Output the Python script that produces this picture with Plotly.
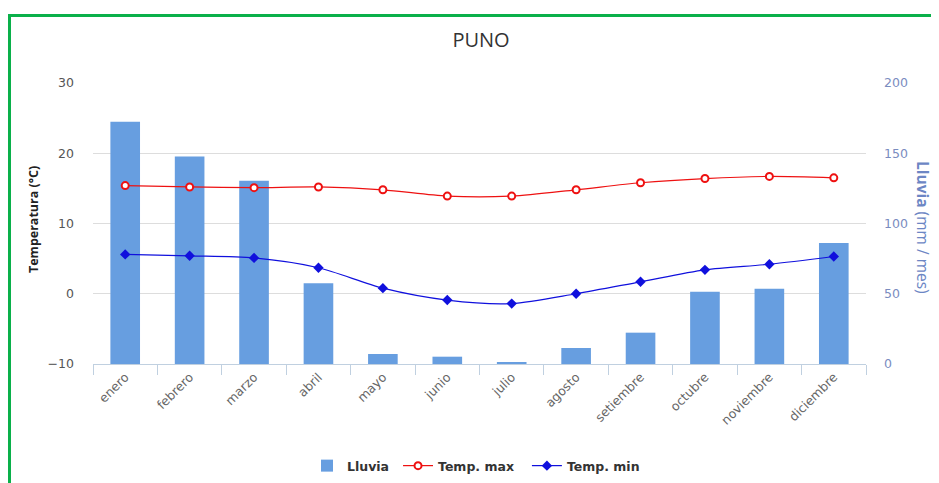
import plotly.graph_objects as go

months = ["enero", "febrero", "marzo", "abril", "mayo", "junio", "julio",
          "agosto", "setiembre", "octubre", "noviembre", "diciembre"]
lluvia = [172.5, 147.6, 130.4, 57.4, 7.1, 5.2, 1.4, 11.4, 22.3, 51.5, 53.6, 86.1]
temp_max = [15.4, 15.2, 15.1, 15.2, 14.8, 13.9, 13.9, 14.8, 15.8, 16.4, 16.7, 16.5]
temp_min = [5.6, 5.4, 5.1, 3.7, 0.8, -0.9, -1.4, 0.0, 1.7, 3.4, 4.2, 5.3]
temp_ticks = [-10, 0, 10, 20, 30]
rain_ticks = [0, 50, 100, 150, 200]

# page body has an 8px margin: figure is drawn at offset (8, 8)
OFF = 8
W, H = 939 - OFF, 483 - OFF
L, R, T, B = 93 - OFF, 866 - OFF, 83 - OFF, 364 - OFF


def px(x):
    return (x - OFF - L) / (R - L)


def py(y):
    return (B - (y - OFF)) / (B - T)


fig = go.Figure()
fig.add_trace(go.Bar(
    x=months, y=lluvia, name="<b>Lluvia</b>&nbsp;", yaxis="y",
    marker=dict(color="#679ee0", line=dict(width=0)),
))
fig.add_trace(go.Scatter(
    x=months, y=temp_max, name="<b>Temp. max</b>&nbsp;&nbsp;", yaxis="y2", mode="lines+markers",
    line=dict(color="#ee1111", width=1.2, shape="spline", smoothing=0.8),
    marker=dict(symbol="circle", size=7, color="white", line=dict(color="#ee1111", width=2)),
))
fig.add_trace(go.Scatter(
    x=months, y=temp_min, name="<b>Temp. min</b>", yaxis="y2", mode="lines+markers",
    line=dict(color="#1010dd", width=1.2, shape="spline", smoothing=0.8),
    marker=dict(symbol="diamond", size=8, color="#1010dd"),
))

xtickfont = dict(family="DejaVu Sans, sans-serif", size=12.5, color="#666666")
ytickfont = dict(family="DejaVu Sans, sans-serif", size=12.5, color="#555555")

fig.update_layout(
    width=W, height=H,
    margin=dict(l=L, r=W - R, t=T, b=H - B, pad=0, autoexpand=False),
    paper_bgcolor="white", plot_bgcolor="white",
    bargap=0.54,
    showlegend=True,
    legend=dict(orientation="h", x=(476 - OFF) / W, xanchor="center", xref="container",
                y=1 - (466 - OFF) / H, yanchor="middle", yref="container",
                font=dict(family="DejaVu Sans, sans-serif", size=12.5, color="#333333"),
                itemwidth=30, traceorder="normal", tracegroupgap=0),
    xaxis=dict(
        type="category", range=[-0.5, len(months) - 0.5], tickangle=-45,
        tickfont=xtickfont, automargin=False,
        showline=True, linecolor="#c0d0e0", linewidth=1,
        ticks="outside", ticklen=10, tickcolor="#c0d0e0", tickson="boundaries",
        showgrid=False, zeroline=False,
    ),
    yaxis=dict(
        side="right", range=[0, 200], tickvals=rain_ticks, automargin=False,
        tickfont=dict(family="DejaVu Sans, sans-serif", size=12.5, color="#7a8cbf"),
        showgrid=True, gridcolor="#dddddd", zeroline=False, ticklabelstandoff=17,
    ),
    yaxis2=dict(
        side="left", overlaying="y", range=[-10, 30], tickvals=temp_ticks, automargin=False,
        tickfont=ytickfont, showgrid=False, zeroline=False, ticklabelstandoff=18,
    ),
    title=dict(text="PUNO", x=(481 - OFF) / W, xanchor="center", y=1 - (40 - OFF) / H,
               yanchor="middle",
               font=dict(family="Open Sans, sans-serif", size=20, color="#333333")),
    annotations=[
        dict(text="<b>Temperatura (°C)</b>", xref="paper", yref="paper",
             x=px(33), y=py(220), xanchor="center", yanchor="middle",
             textangle=-90, showarrow=False,
             font=dict(family="Open Sans, sans-serif", size=12.5, color="#222222")),
        dict(text="<b>Lluvia</b> (mm / mes)", xref="paper", yref="paper",
             x=px(923), y=py(227), xanchor="center", yanchor="middle",
             textangle=90, showarrow=False,
             font=dict(family="Open Sans, sans-serif", size=15.5, color="#6c86c4")),
    ],
    shapes=[
        dict(type="line", xref="paper", yref="paper", x0=px(8), x1=px(939),
             y0=py(15.5), y1=py(15.5), line=dict(color="#0ab04a", width=3)),
        dict(type="line", xref="paper", yref="paper", x0=px(9.5), x1=px(9.5),
             y0=py(14), y1=py(483), line=dict(color="#0ab04a", width=3)),
    ],
)

fig.write_html("out.html")
